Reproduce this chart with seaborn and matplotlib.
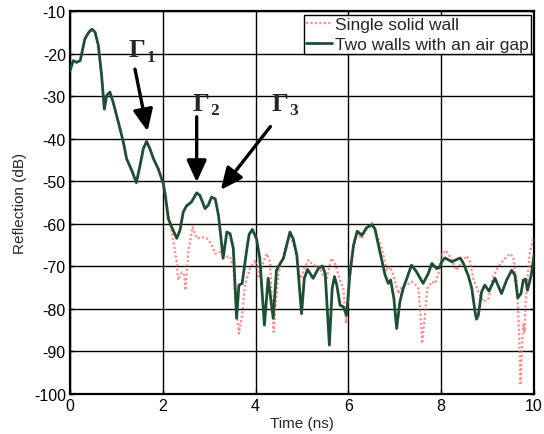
import numpy as np
import pandas as pd
import matplotlib
matplotlib.use("Agg")
import matplotlib.pyplot as plt
import seaborn as sns

# Common early response (both configurations coincide up to ~2 ns)
t_common = [0.00, 0.07, 0.14, 0.22, 0.32, 0.40, 0.47, 0.54, 0.61, 0.68, 0.74,
            0.79, 0.86, 0.93, 1.04, 1.15, 1.22, 1.33, 1.43, 1.51, 1.58, 1.65,
            1.72, 1.80, 1.90, 2.01, 2.05]
db_common = [-24.0, -21.6, -22.0, -21.6, -16.5, -15.0, -14.2, -14.9, -18.0,
             -25.0, -33.0, -29.8, -29.0, -31.4, -36.0, -40.8, -44.7, -47.4,
             -50.3, -46.2, -42.3, -40.6, -42.3, -44.7, -47.0, -50.5, -53.0]

# Single solid wall, after 2 ns
t_single = [2.16, 2.23, 2.30, 2.33, 2.41, 2.46, 2.49, 2.55, 2.64, 2.73, 2.84,
            2.95, 3.04, 3.13, 3.23, 3.34, 3.45, 3.52, 3.59, 3.64, 3.71, 3.77,
            3.88, 3.99, 4.07, 4.17, 4.24, 4.31, 4.34, 4.39, 4.44, 4.49, 4.60,
            4.67, 4.74, 4.85, 4.94, 4.98, 5.06, 5.14, 5.24, 5.35, 5.46, 5.53,
            5.63, 5.71, 5.82, 5.89, 5.95, 6.03, 6.11, 6.19, 6.29, 6.39, 6.52,
            6.57, 6.72, 6.83, 6.90, 6.97, 7.08, 7.15, 7.25, 7.36, 7.43, 7.51,
            7.56, 7.59, 7.65, 7.70, 7.80, 7.87, 7.94, 8.01, 8.10, 8.21, 8.33,
            8.43, 8.55, 8.62, 8.69, 8.80, 8.91, 9.02, 9.12, 9.23, 9.34, 9.48,
            9.55, 9.63, 9.68, 9.71, 9.75, 9.77, 9.80, 9.82, 9.86, 9.91, 9.98]
db_single = [-59.9, -64.2, -68.9, -73.2, -71.4, -72.1, -75.6, -66.6, -60.7,
             -63.4, -63.1, -63.4, -64.6, -67.0, -66.6, -67.7, -67.7, -70.5,
             -80.7, -85.8, -81.5, -74.4, -70.5, -68.5, -72.8, -68.9, -67.0,
             -68.9, -76.0, -85.4, -77.9, -71.7, -67.4, -64.6, -62.5, -65.8,
             -71.7, -72.8, -70.1, -68.5, -69.7, -69.9, -72.1, -73.2, -68.1,
             -69.3, -73.2, -75.2, -83.4, -73.0, -65.7, -62.3, -63.5, -61.3,
             -59.7, -61.1, -65.8, -70.9, -70.1, -72.1, -76.4, -74.8, -74.4,
             -73.6, -74.0, -75.2, -82.2, -88.1, -81.5, -75.2, -73.6, -74.0,
             -71.7, -67.4, -66.2, -68.1, -70.9, -69.3, -67.5, -68.9, -72.8,
             -76.0, -78.3, -77.5, -72.4, -70.1, -68.5, -67.0, -67.7, -73.6,
             -86.1, -97.9, -87.7, -83.4, -85.4, -78.3, -73.2, -66.6, -63.6]

# Two walls with an air gap, after 2 ns
t_double = [2.12, 2.19, 2.30, 2.37, 2.44, 2.51, 2.62, 2.73, 2.80, 2.91, 2.98,
            3.05, 3.13, 3.20, 3.27, 3.30, 3.38, 3.45, 3.52, 3.59, 3.64, 3.71,
            3.81, 3.86, 3.93, 4.02, 4.09, 4.19, 4.27, 4.38, 4.45, 4.53, 4.60,
            4.67, 4.74, 4.81, 4.89, 4.99, 5.05, 5.12, 5.24, 5.35, 5.44, 5.50,
            5.59, 5.65, 5.70, 5.75, 5.82, 5.89, 5.96, 6.03, 6.11, 6.19, 6.29,
            6.39, 6.50, 6.57, 6.68, 6.79, 6.86, 6.91, 6.98, 7.04, 7.11, 7.18,
            7.26, 7.36, 7.47, 7.61, 7.72, 7.80, 7.90, 7.97, 8.01, 8.08, 8.23,
            8.41, 8.48, 8.59, 8.66, 8.73, 8.76, 8.80, 8.87, 8.94, 9.03, 9.16,
            9.30, 9.41, 9.52, 9.59, 9.65, 9.72, 9.77, 9.82, 9.86, 9.94, 10.00]
db_double = [-58.8, -60.7, -63.4, -61.5, -57.2, -55.8, -54.8, -52.7, -53.3,
             -56.4, -55.6, -53.7, -54.1, -58.0, -65.0, -68.1, -61.9, -62.3,
             -65.8, -82.2, -74.4, -74.0, -66.0, -62.5, -61.3, -63.5, -68.1,
             -83.8, -72.8, -82.2, -70.9, -69.3, -68.1, -65.0, -61.9, -63.5,
             -67.4, -81.1, -72.8, -70.7, -72.8, -70.5, -69.9, -71.7, -88.5,
             -75.2, -72.4, -74.4, -79.1, -79.5, -81.5, -72.0, -65.0, -61.7,
             -62.7, -60.9, -60.2, -61.1, -66.6, -72.0, -74.0, -73.2, -77.5,
             -84.6, -78.3, -75.2, -72.8, -69.7, -71.3, -74.0, -71.7, -69.3,
             -70.5, -70.2, -68.9, -68.0, -68.9, -68.0, -69.3, -72.4, -75.2,
             -80.7, -82.4, -81.5, -76.0, -74.4, -75.8, -72.8, -76.4, -73.2,
             -70.9, -72.1, -77.4, -76.4, -73.2, -73.0, -75.6, -72.1, -67.4]

series_names = ["Single solid wall", "Two walls with an air gap"]
x_ticks = [0, 2, 4, 6, 8, 10]
y_ticks = [-10, -20, -30, -40, -50, -60, -70, -80, -90, -100]

single = pd.DataFrame({"Time (ns)": t_common + t_single,
                       "Reflection (dB)": db_common + db_single})
double = pd.DataFrame({"Time (ns)": t_common + t_double,
                       "Reflection (dB)": db_common + db_double})

sns.set_theme(style="white")
plt.rcParams["font.family"] = ["Liberation Sans", "DejaVu Sans"]

fig = plt.figure(figsize=(5.44, 4.35), dpi=100)
ax = fig.add_axes([0.1287, 0.092, 0.8529, 0.8797])

sns.lineplot(data=single, x="Time (ns)", y="Reflection (dB)", ax=ax,
             estimator=None, sort=False, color="#ff5a5a", linestyle=(0, (1, 1)),
             linewidth=1.6, alpha=0.7, label=series_names[0], zorder=3)
sns.lineplot(data=double, x="Time (ns)", y="Reflection (dB)", ax=ax,
             estimator=None, sort=False, color="#1d4f35", linewidth=2.0,
             label=series_names[1], zorder=4)

ax.set_xlim(0, 10)
ax.set_ylim(-100, -10)
ax.set_xticks(x_ticks)
ax.set_yticks(y_ticks)
ax.set_xticklabels([str(v) for v in x_ticks], fontsize=11.5)
ax.set_yticklabels([str(v) for v in y_ticks], fontsize=11.5)
ax.grid(True, color="black", linewidth=1.0)
ax.set_axisbelow(True)
for s in ax.spines.values():
    s.set_color("black")
    s.set_linewidth(1.6)
ax.tick_params(direction="in", length=3, width=1, colors="black",
               left=True, bottom=True, right=True, top=False, pad=3)
ax.set_xlabel("Time (ns)", fontsize=11, labelpad=2)
ax.set_ylabel("Reflection (dB)", fontsize=11, labelpad=5)

leg = ax.legend(loc="upper right", fontsize=12.5, frameon=True, fancybox=False,
                borderaxespad=0.2, handlelength=1.5, handletextpad=0.15,
                borderpad=0.12, labelspacing=0.3)
leg.get_frame().set_edgecolor("black")
leg.get_frame().set_linewidth(1.0)
leg.get_frame().set_alpha(1.0)

# Reflection labels with arrows
serif = ["Liberation Serif", "DejaVu Serif"]
labels = [("1", (1.45, -19.0), (1.40, -23.6), (1.67, -38.2)),
          ("2", (2.83, -31.6), (2.73, -34.8), (2.73, -50.2)),
          ("3", (4.52, -31.6), (4.32, -37.1), (3.25, -52.0))]
for sub, (tx, ty), start, tip in labels:
    ax.text(tx, ty, "Γ", fontsize=19, fontweight="bold", family=serif,
            ha="center", va="center", zorder=6)
    ax.text(tx + 0.2, ty - 1.7, sub, fontsize=12.5, fontweight="bold",
            family=serif, ha="left", va="center", zorder=6)
    ax.annotate("", xy=tip, xytext=start, zorder=6,
                arrowprops=dict(arrowstyle="-|>,head_length=1.1,head_width=0.5",
                                color="black", lw=2.4, shrinkA=0, shrinkB=0))

fig.savefig("out.png", dpi=100)
